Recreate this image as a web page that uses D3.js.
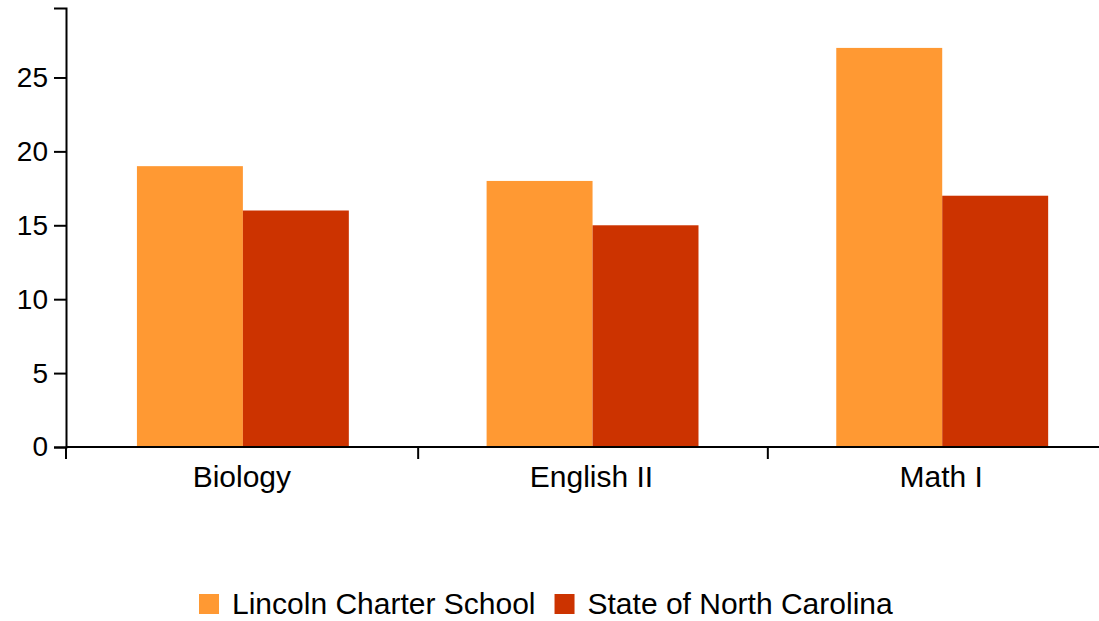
<!DOCTYPE html>
<html>
<head>
<meta charset="utf-8">
<script src="https://cdn.jsdelivr.net/npm/d3@7"></script>
<style>
  body { margin: 0; background: #fff; }
  #chart { width: 1099px; height: 621px; }
  text { font-family: "Liberation Sans", Arial, sans-serif; fill: #000; }
</style>
</head>
<body>
<div id="chart"></div>
<script>
const categories = ["Biology", "English II", "Math I"];
const seriesNames = ["Lincoln Charter School", "State of North Carolina"];
const lincolnValues = [19, 18, 27];
const stateValues = [16, 15, 17];
const yTicks = [0, 5, 10, 15, 20, 25];
const colors = ["#FF9933", "#CC3300"];

function bar_chart() {
    const width = 1099, height = 621;
    const svg = d3.select("#chart").append("svg")
        .attr("width", width)
        .attr("height", height);

    const values = [lincolnValues, stateValues];
    const rows = categories.map((c, i) => ({ cat: c, vals: values.map(v => v[i]) }));

    const x = d3.scaleBand().domain(categories).range([67, 1116]);
    const x1 = d3.scaleBand().domain(seriesNames)
        .range([x.bandwidth() * 0.2, x.bandwidth() * 0.806]);
    const maxVal = d3.max(values.flat());
    const y = d3.scaleLinear().domain([0, maxVal * 1.1]).range([447, 8]);

    // bars
    const groups = svg.selectAll("g.cat").data(rows).join("g")
        .attr("class", "cat")
        .attr("transform", d => `translate(${x(d.cat)},0)`);
    groups.selectAll("rect").data(d => d.vals.map((v, j) => ({ name: seriesNames[j], v: v, j: j })))
        .join("rect")
        .attr("x", d => x1(d.name))
        .attr("width", x1.bandwidth())
        .attr("y", d => y(d.v))
        .attr("height", d => y(0) - y(d.v))
        .attr("fill", d => colors[d.j]);

    // y axis
    const yAxis = svg.append("g")
        .attr("transform", "translate(66,0)")
        .call(d3.axisLeft(y).tickValues(yTicks).tickSize(12).tickPadding(6));
    yAxis.select(".domain").attr("stroke", "#000").attr("stroke-width", 2);
    yAxis.selectAll(".tick line").attr("stroke", "#000").attr("stroke-width", 2);
    yAxis.selectAll(".tick text").style("font-size", "28px").attr("fill", "#000");

    // x axis, ticks on the band edges
    const xAxis = svg.append("g");
    xAxis.append("line")
        .attr("x1", 66).attr("x2", width)
        .attr("y1", y(0)).attr("y2", y(0))
        .attr("stroke", "#000").attr("stroke-width", 2);
    xAxis.selectAll("line.tick").data(categories).join("line")
        .attr("class", "tick")
        .attr("x1", (d, i) => i === 0 ? 66 : x(d) + 1.5)
        .attr("x2", (d, i) => i === 0 ? 66 : x(d) + 1.5)
        .attr("y1", y(0)).attr("y2", y(0) + 12)
        .attr("stroke", "#000").attr("stroke-width", 2);
    xAxis.selectAll("text").data(categories).join("text")
        .attr("x", d => x(d) + x.bandwidth() / 2)
        .attr("y", 487)
        .attr("text-anchor", "middle")
        .style("font-size", "30px")
        .text(d => d);

    // legend
    const legend = svg.append("g");
    const items = legend.selectAll("g").data(seriesNames).join("g");
    items.append("rect")
        .attr("width", 20).attr("height", 20)
        .attr("y", 594)
        .attr("fill", (d, i) => colors[i]);
    items.append("text")
        .attr("x", 33).attr("y", 614)
        .style("font-size", "30px")
        .text(d => d);
    let offset = 0;
    const widths = [];
    items.each(function () {
        widths.push(this.getBBox().width);
    });
    const gap = 19;
    const total = d3.sum(widths) + gap * (widths.length - 1);
    const start = 546 - total / 2;
    items.attr("transform", (d, i) => {
        const t = `translate(${start + offset},0)`;
        offset += widths[i] + gap;
        return t;
    });
}

bar_chart();
</script>
</body>
</html>
